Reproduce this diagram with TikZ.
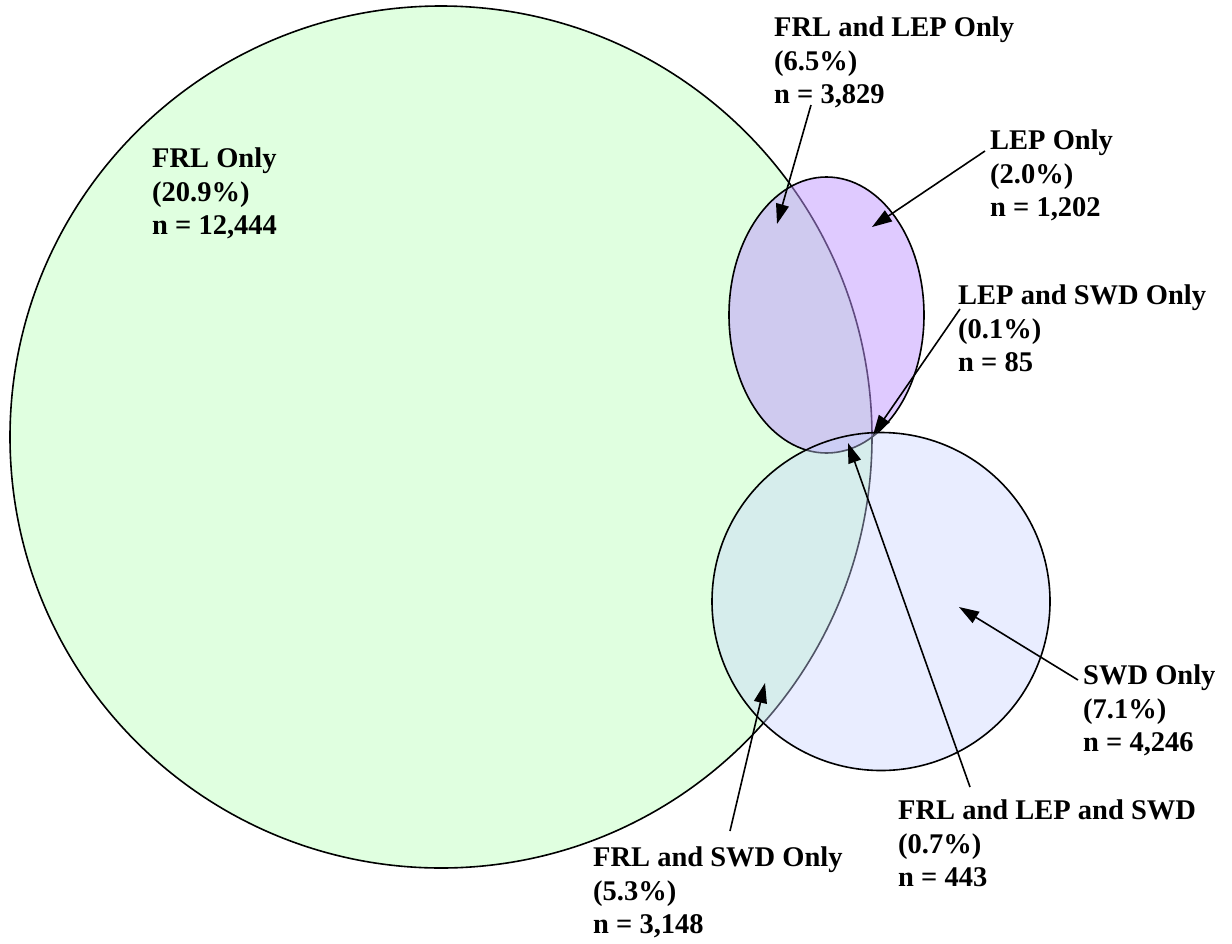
\documentclass[tikz,border=0pt]{standalone}
\usepackage{fontspec}
\setmainfont{Liberation Serif}
\usepackage{tikz}
\usetikzlibrary{arrows.meta}
\definecolor{frlfill}{RGB}{224, 255, 224}
\definecolor{lepfill}{RGB}{192, 150, 255}
\definecolor{swdfill}{RGB}{200, 212, 255}

\begin{document}
\begin{tikzpicture}[x=1pt, y=-1pt,
    lbl/.style={anchor=north west, inner sep=0, align=left,
      font=\fontsize{28.5}{33.5}\selectfont\bfseries},
    arr/.style={line width=1.6pt, -{Triangle[length=20pt, width=13pt]}}]
  \useasboundingbox[fill=white] (0, 0) rectangle (1232, 943);

  % sets
  \draw[fill=frlfill, line width=1.6pt] (441, 437) circle (431pt);
  \draw[fill=lepfill, fill opacity=0.5, line width=1.6pt] (826.5, 315) ellipse [x radius=97.5pt, y radius=138pt];
  \draw[fill=swdfill, fill opacity=0.4, line width=1.6pt] (881, 601.5) circle (169pt);

  % labels
  \node[lbl] (frlonly) at (152, 148) {FRL Only\\(20.9\%)\\n = 12,444};
  \node[lbl] (frllep) at (774, 17) {FRL and LEP Only\\(6.5\%)\\n = 3,829};
  \node[lbl] (leponly) at (990, 130) {LEP Only\\(2.0\%)\\n = 1,202};
  \node[lbl] (lepswd) at (958, 285) {LEP and SWD Only\\(0.1\%)\\n = 85};
  \node[lbl] (swdonly) at (1083, 665) {SWD Only\\(7.1\%)\\n = 4,246};
  \node[lbl] (frlswd) at (593, 847) {FRL and SWD Only\\(5.3\%)\\n = 3,148};
  \node[lbl] (allthree) at (898, 800) {FRL and LEP and SWD\\(0.7\%)\\n = 443};

  % pointers
  \coordinate (frllep-from) at (811, 105);
  \coordinate (frllep-to) at (777, 224);
  \coordinate (leponly-from) at (985, 151);
  \coordinate (leponly-to) at (872, 227);
  \coordinate (lepswd-from) at (960, 309);
  \coordinate (lepswd-to) at (873, 435);
  \coordinate (allthree-from) at (970, 787);
  \coordinate (allthree-to) at (848, 443);
  \coordinate (frlswd-from) at (730, 831);
  \coordinate (frlswd-to) at (765, 683);
  \coordinate (swdonly-from) at (1078, 680);
  \coordinate (swdonly-to) at (959, 607);

  \foreach \n in {frllep, leponly, lepswd, allthree, frlswd, swdonly} {
    \draw[arr] (\n-from) -- (\n-to);
  }
\end{tikzpicture}
\end{document}
